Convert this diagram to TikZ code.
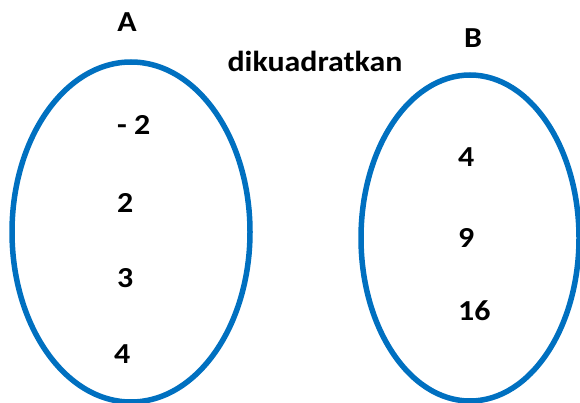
\documentclass[tikz,border=0pt]{standalone}
\usepackage{fontspec}
\setmainfont{Carlito}[FakeStretch=1.1]
\usepackage{xcolor}
\definecolor{setblue}{HTML}{0070C0}
\definecolor{ink}{HTML}{000000}
\tikzset{
  setline/.style={draw=setblue, line width=5.5pt},
  lab/.style={text=ink, font=\bfseries\fontsize{29}{34}\selectfont, inner sep=0pt},
  elem/.style={lab, anchor=base west},
}
\begin{document}
\begin{tikzpicture}[x=1pt,y=-1pt]
  \useasboundingbox (0,0) rectangle (580,403);
  \coordinate (CA) at (131,232);
  \coordinate (CB) at (470,238);

  \draw[setline] (CA) ellipse [x radius=119, y radius=170];
  \draw[setline] (CB) ellipse [x radius=109, y radius=163];

  \node[lab, anchor=base] (A) at (127,32) {A};
  \node[lab, anchor=base] (B) at (473,48) {B};
  \node[lab, anchor=base] (map) at (315,72) {dikuadratkan};

  \node[elem] (a1) at (117,135) {- 2};
  \node[elem] (a2) at (117,213) {2};
  \node[elem] (a3) at (117,287) {3};
  \node[elem] (a4) at (114,363) {4};

  \node[elem] (b1) at (458,167) {4};
  \node[elem] (b2) at (458,247) {9};
  \node[elem] (b3) at (458,320) {16};
\end{tikzpicture}
\end{document}
